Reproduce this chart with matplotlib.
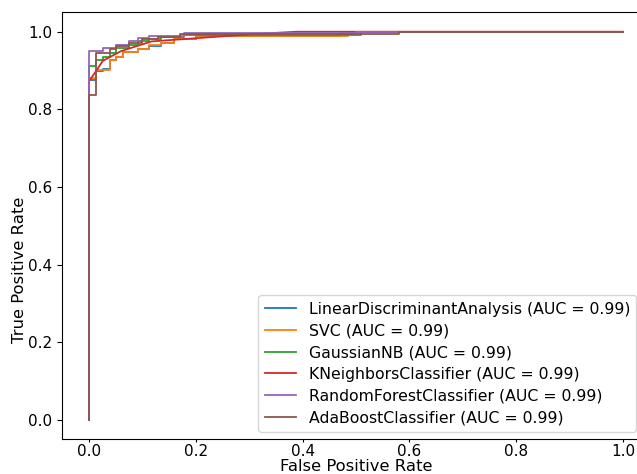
"""
ROC curves for six classifiers (recreated)
"""
import matplotlib
matplotlib.use('Agg')
import matplotlib.pyplot as plt

# ROC points (fpr, tpr)
lda_fpr = [0, 0, 0.013, 0.013, 0.026, 0.026, 0.04, 0.04, 0.05, 0.05, 0.063, 0.063, 0.091, 0.091,
           0.113, 0.113, 0.135, 0.135, 0.16, 0.16, 0.2, 0.2, 0.47, 0.47, 1]
lda_tpr = [0, 0.876, 0.876, 0.898, 0.898, 0.905, 0.905, 0.926, 0.926, 0.934, 0.934, 0.947, 0.947, 0.955,
           0.955, 0.964, 0.964, 0.972, 0.972, 0.98, 0.98, 0.99, 0.99, 1.0, 1.0]

svc_fpr = [0, 0, 0.013, 0.013, 0.04, 0.04, 0.05, 0.05, 0.063, 0.063, 0.091, 0.091, 0.113, 0.113,
           0.135, 0.135, 0.16, 0.16, 0.2, 0.2, 0.485, 0.485, 1]
svc_tpr = [0, 0.881, 0.881, 0.902, 0.902, 0.928, 0.928, 0.934, 0.934, 0.949, 0.949, 0.955, 0.955, 0.966,
           0.966, 0.972, 0.972, 0.98, 0.98, 0.99, 0.99, 1.0, 1.0]

gnb_fpr = [0, 0, 0.013, 0.013, 0.026, 0.026, 0.04, 0.04, 0.05, 0.05, 0.075, 0.075, 0.091, 0.091,
           0.113, 0.113, 0.135, 0.135, 0.178, 0.178, 0.51, 0.51, 1]
gnb_tpr = [0, 0.912, 0.912, 0.928, 0.928, 0.936, 0.936, 0.945, 0.945, 0.958, 0.958, 0.966, 0.966, 0.975,
           0.975, 0.981, 0.981, 0.987, 0.987, 0.992, 0.992, 1.0, 1.0]

knn_fpr = [0, 0, 0.026, 0.06, 0.117, 0.32, 0.39, 1]
knn_tpr = [0, 0.872, 0.925, 0.95, 0.975, 0.995, 1.0, 1.0]

rf_fpr = [0, 0, 0.026, 0.026, 0.05, 0.05, 0.075, 0.075, 0.091, 0.091, 0.113, 0.113, 0.178, 0.178,
          0.5, 0.5, 1]
rf_tpr = [0, 0.951, 0.951, 0.957, 0.957, 0.966, 0.966, 0.975, 0.975, 0.984, 0.984, 0.99, 0.99, 0.996,
          0.996, 1.0, 1.0]

ada_fpr = [0, 0, 0.013, 0.013, 0.04, 0.04, 0.05, 0.05, 0.075, 0.075, 0.1, 0.1, 0.13, 0.13,
           0.17, 0.17, 0.58, 0.58, 1]
ada_tpr = [0, 0.838, 0.838, 0.945, 0.945, 0.955, 0.955, 0.964, 0.964, 0.972, 0.972, 0.98, 0.98, 0.987,
           0.987, 0.995, 0.995, 1.0, 1.0]

names = ['LinearDiscriminantAnalysis', 'SVC', 'GaussianNB',
         'KNeighborsClassifier', 'RandomForestClassifier', 'AdaBoostClassifier']
aucs = [0.99, 0.99, 0.99, 0.99, 0.99, 0.99]
curves = [(lda_fpr, lda_tpr), (svc_fpr, svc_tpr), (gnb_fpr, gnb_tpr),
          (knn_fpr, knn_tpr), (rf_fpr, rf_tpr), (ada_fpr, ada_tpr)]

fig = plt.figure(figsize=(6.37, 4.74), dpi=100)
# axes runs past the right edge, as in the cropped reference
ax = fig.add_axes([62.3 / 637, (474 - 439.4) / 474, 587.4 / 637, 427.1 / 474])

for (fpr, tpr), name, auc in zip(curves, names, aucs):
    ax.plot(fpr, tpr, linewidth=1.3, label=f'{name} (AUC = {auc:.2f})')

ax.set_xlim(-0.05, 1.05)
ax.set_ylim(-0.05, 1.05)
ax.set_xticks([0.0, 0.2, 0.4, 0.6, 0.8, 1.0])
ax.set_yticks([0.0, 0.2, 0.4, 0.6, 0.8, 1.0])
ax.tick_params(axis='both', labelsize=11)
ax.tick_params(axis='x', length=2.5, pad=1)
ax.set_xlabel('False Positive Rate', fontsize=11.8, labelpad=0)
ax.set_ylabel('True Positive Rate', fontsize=11.8)
ax.yaxis.set_label_coords(-0.06, 0.397)
ax.legend(loc='lower right', bbox_to_anchor=(0.9907, 0), fontsize=11.3,
          labelspacing=0.43)

fig.savefig('out.png', dpi=100)
